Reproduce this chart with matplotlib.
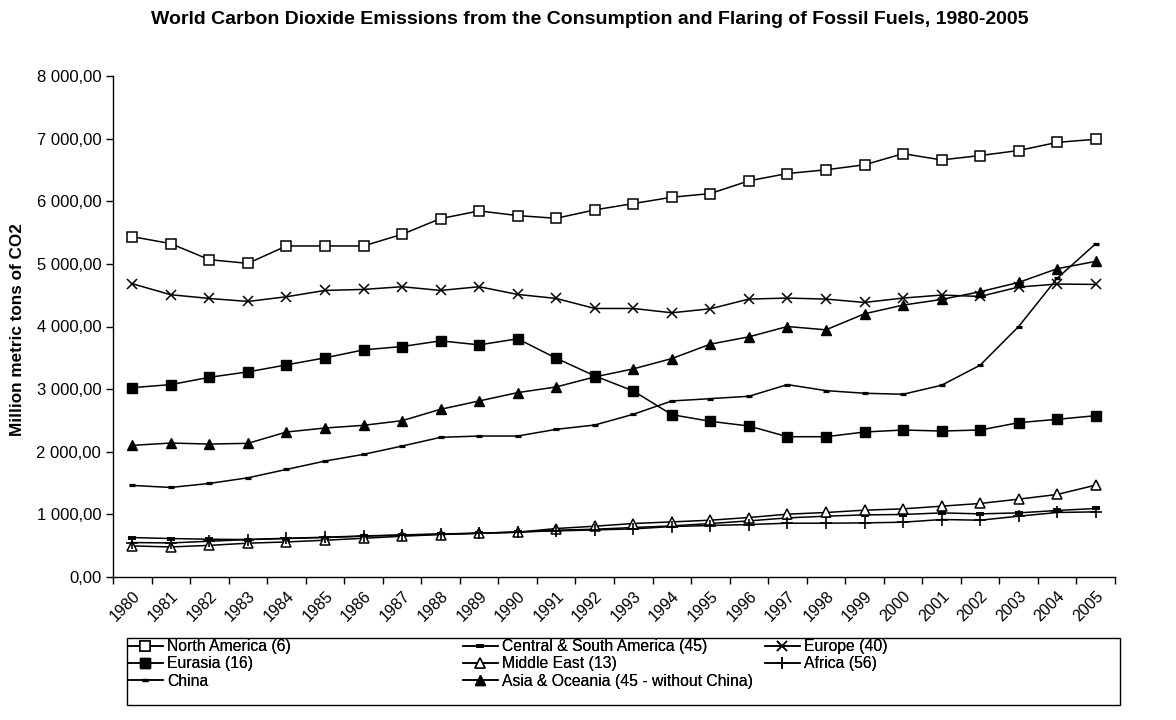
import numpy as np
import matplotlib.pyplot as plt
from matplotlib.patches import Rectangle

plt.rcParams['font.family'] = ['Liberation Sans', 'DejaVu Sans']

# Years and emissions per region (million metric tons of CO2)
years = [str(y) for y in range(1980, 2006)]

north_america = [5435, 5323, 5067, 5008, 5286, 5286, 5286, 5472, 5723, 5846, 5771, 5728,
                 5862, 5963, 6064, 6123, 6326, 6443, 6502, 6582, 6760, 6660, 6730, 6810,
                 6940, 6990]
central_south_america = [630, 614, 603, 598, 614, 630, 651, 667, 683, 699, 715, 747,
                         763, 790, 816, 854, 896, 944, 971, 992, 998, 1024, 1008, 1024,
                         1062, 1094]
europe = [4683, 4507, 4448, 4400, 4475, 4576, 4592, 4635, 4576, 4635, 4512, 4448,
          4288, 4288, 4219, 4283, 4438, 4454, 4438, 4384, 4454, 4502, 4480, 4630,
          4678, 4672]
eurasia = [3024, 3072, 3189, 3275, 3387, 3499, 3627, 3680, 3771, 3707, 3803, 3494,
           3211, 2971, 2592, 2486, 2411, 2240, 2240, 2315, 2347, 2331, 2347, 2464,
           2518, 2576]
middle_east = [496, 480, 505, 540, 560, 587, 618, 651, 678, 698, 715, 774,
               811, 854, 880, 907, 950, 1003, 1030, 1067, 1088, 1131, 1174, 1243,
               1318, 1467]
africa = [550, 544, 571, 598, 619, 635, 656, 672, 688, 699, 720, 736,
          752, 768, 806, 822, 838, 859, 859, 864, 875, 918, 907, 971,
          1030, 1040]
china = [1462, 1430, 1494, 1584, 1718, 1851, 1958, 2091, 2230, 2251, 2251, 2358,
         2427, 2598, 2811, 2848, 2886, 3072, 2976, 2934, 2918, 3062, 3382, 4000,
         4770, 5323]
asia_oceania = [2102, 2139, 2123, 2134, 2315, 2379, 2422, 2496, 2678, 2811, 2944, 3035,
                3195, 3323, 3488, 3718, 3835, 4000, 3947, 4203, 4342, 4432, 4555, 4704,
                4923, 5040]

x = np.arange(len(years))
W, H = 1176, 720

fig = plt.figure(figsize=(W / 100, H / 100), dpi=100)
ax = fig.add_axes([113 / W, 1 - 577 / H, (1115 - 113) / W, (577 - 76) / H])

lw = 1.1
styles = {
    'North America (6)': (north_america, dict(marker='s', ms=6.5, mfc='white', mew=1.1)),
    'Central & South America (45)': (central_south_america, dict(marker='_', ms=6, mew=2.8)),
    'Europe (40)': (europe, dict(marker='x', ms=7, mew=1.1)),
    'Eurasia (16)': (eurasia, dict(marker='s', ms=7, mfc='black')),
    'Middle East (13)': (middle_east, dict(marker='^', ms=6.5, mfc='white', mew=1.1)),
    'Africa (56)': (africa, dict(marker='+', ms=8, mew=1.2)),
    'China': (china, dict(marker='_', ms=4.5, mew=2.3)),
    'Asia & Oceania (45 - without China)': (asia_oceania, dict(marker='^', ms=7, mfc='black')),
}

handles = {}
for name, (vals, kw) in styles.items():
    h, = ax.plot(x, vals, color='black', lw=lw, mec='black', label=name, **kw)
    handles[name] = h

ax.set_xlim(-0.5, len(years) - 0.5)
ax.set_ylim(0, 8000)
yt = np.arange(0, 8001, 1000)
ax.set_yticks(yt)
ax.set_yticklabels([f"{v:,.2f}".replace(',', ' ').replace('.', ',') for v in yt], fontsize=12)
ax.set_xticks(x)
ax.set_xticklabels(years, rotation=45, ha='right', rotation_mode='anchor', fontsize=11.5)
ax.set_xticks(np.arange(-0.5, len(years)), minor=True)
ax.tick_params(axis='x', which='major', length=0, pad=8)
ax.tick_params(axis='x', which='minor', length=5, direction='out', width=1)
ax.tick_params(axis='y', length=5, direction='out', width=1)
for side in ('top', 'right'):
    ax.spines[side].set_visible(False)
for side in ('left', 'bottom'):
    ax.spines[side].set_linewidth(1)

fig.text(590 / W, 1 - 19 / H,
         'World Carbon Dioxide Emissions from the Consumption and Flaring of Fossil Fuels, 1980-2005',
         ha='center', va='center', fontsize=14, fontweight='bold')
fig.text(18 / W, 1 - 330 / H, 'Million metric tons of CO2',
         rotation=90, ha='center', va='center', fontsize=12.3, fontweight='bold')

# legend: three equal-width columns inside one box
columns = [['North America (6)', 'Eurasia (16)', 'China'],
           ['Central & South America (45)', 'Middle East (13)', 'Asia & Oceania (45 - without China)'],
           ['Europe (40)', 'Africa (56)']]
col_left = [128, 463, 765]
for names, left in zip(columns, col_left):
    leg = fig.legend([handles[n] for n in names], names, loc='upper left',
                     bbox_to_anchor=(left / W, 1 - 639 / H), frameon=False,
                     fontsize=11.3, borderpad=0, borderaxespad=0, labelspacing=0.15,
                     handlelength=2.2, handletextpad=0.3)
    fig.add_artist(leg)
fig.add_artist(Rectangle((127 / W, 1 - 705 / H), (1120 - 127) / W, (705 - 638) / H,
                         transform=fig.transFigure, fill=False, edgecolor='black', lw=1))

fig.savefig('out.png', dpi=100)
